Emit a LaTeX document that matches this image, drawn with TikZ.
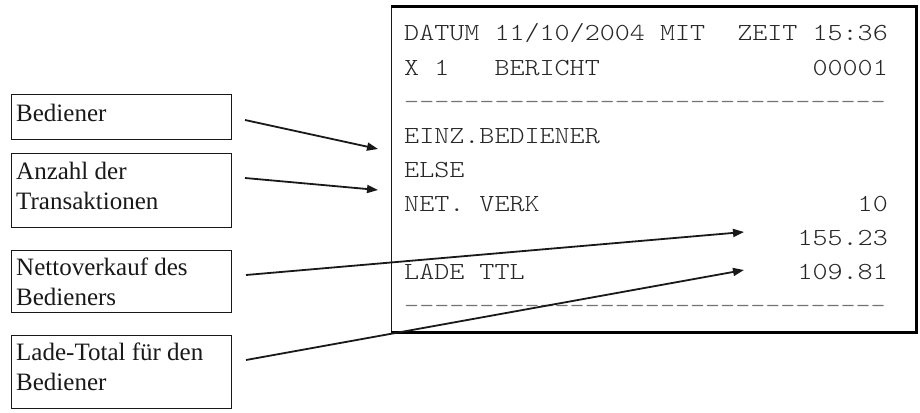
\documentclass[tikz,border=0pt]{standalone}
\usepackage{fontspec}
\setmainfont{Liberation Serif}
\newfontfamily\rmono[FakeStretch=1.17]{lmmonolt10-regular.otf}
\usetikzlibrary{arrows.meta}
\begin{document}
\begin{tikzpicture}[x=1pt,y=-1pt,
  lbox/.style={draw=black!90, line width=1.3pt, inner sep=0pt, anchor=north west, minimum width=220pt},
  ltext/.style={font=\fontsize{25}{29.5}\selectfont, align=left, anchor=base west, inner sep=0pt, text=black!90},
  rleft/.style={font=\rmono\fontsize{24.5}{30}\selectfont, inner sep=0pt, text=black!85, anchor=base west},
  rright/.style={font=\rmono\fontsize{24.5}{30}\selectfont, inner sep=0pt, text=black!85, anchor=base east},
  rdash/.style={font=\rmono\fontsize{24.5}{30}\selectfont, inner sep=0pt, text=black!55, anchor=base west},
  ptr/.style={-{Triangle[length=11pt,width=8pt]}, line width=1.8pt, black!90}]
\useasboundingbox (0,0) rectangle (920,412);
\fill[white] (0,0) rectangle (920,412);

% receipt frame
\node[draw=black!90, line width=1.1pt, inner sep=0pt, anchor=north west,
      minimum width=524pt, minimum height=324pt] (rc) at (391,7) {};
\draw[line width=3pt, black] (rc.north west) -- (rc.north east) -- (rc.south east) -- (rc.south west);

% receipt text
\node[rleft]  (r1l) at (404,41)  {DATUM 11/10/2004 MIT};
\node[rright] (r1r) at (888,41)  {ZEIT 15:36};
\node[rleft]  (r2l) at (404,75)  {X 1\ \ \ BERICHT};
\node[rright] (r2r) at (888,75)  {00001};
\node[rdash]  (r3)  at (404,109) {--------------------------------};
\node[rleft]  (r4)  at (404,143) {EINZ.BEDIENER};
\node[rleft]  (r5)  at (404,177) {ELSE};
\node[rleft]  (r6l) at (404,211) {NET. VERK};
\node[rright] (r6r) at (888,211) {10};
\node[rright] (r7r) at (888,245) {155.23};
\node[rleft]  (r8l) at (404,279) {LADE TTL};
\node[rright] (r8r) at (888,279) {109.81};
\node[rdash]  (r9)  at (404,313) {--------------------------------};

% label boxes
\node[lbox, minimum height=45pt] (b1) at (11,94) {};
\node[lbox, minimum height=74pt] (b2) at (11,153) {};
\node[lbox, minimum height=62pt] (b3) at (11,250) {};
\node[lbox, minimum height=73pt] (b4) at (11,335) {};
\node[ltext] (t1) at (16,121) {Bediener};
\node[ltext] (t2) at (16,209) {Anzahl der\\Transaktionen};
\node[ltext] (t3) at (16,305) {Nettoverkauf des\\Bedieners};
\node[ltext] (t4) at (16,390) {Lade-Total für den\\Bediener};

% arrows
\coordinate (s1) at (245,120);
\coordinate (e1) at (378,149);
\coordinate (s2) at (245,178);
\coordinate (e2) at (378,190);
\coordinate (s3) at (246,275);
\coordinate (e3) at (744,232);
\coordinate (s4) at (246,360);
\coordinate (e4) at (744,270);
\draw[ptr] (s1) -- (e1);
\draw[ptr] (s2) -- (e2);
\draw[ptr] (s3) -- (e3);
\draw[ptr] (s4) -- (e4);
\end{tikzpicture}
\end{document}
